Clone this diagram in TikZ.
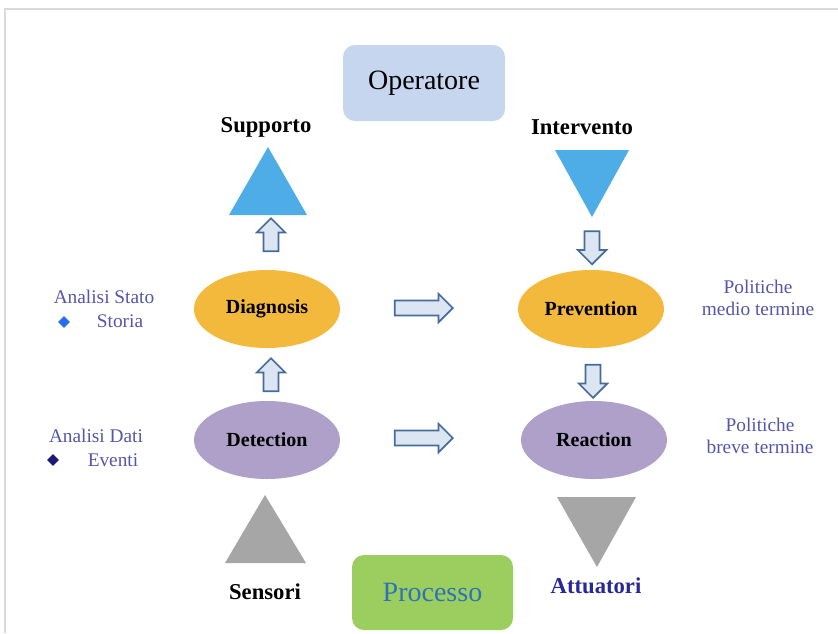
\documentclass[tikz,border=0pt]{standalone}
\usepackage{fontspec}
\setmainfont{Liberation Serif}
\usetikzlibrary{shapes.geometric,shapes.arrows}
\definecolor{opbox}{RGB}{198,214,238}
\definecolor{tribl}{RGB}{78,173,230}
\definecolor{gold}{RGB}{243,185,60}
\definecolor{lilac}{RGB}{174,160,200}
\definecolor{trigr}{RGB}{166,166,166}
\definecolor{procg}{RGB}{155,206,95}
\definecolor{proct}{RGB}{46,116,181}
\definecolor{attt}{RGB}{40,40,150}
\definecolor{sidet}{RGB}{85,85,170}
\definecolor{arrb}{RGB}{70,108,155}
\definecolor{arrf}{RGB}{220,230,242}
\definecolor{frame}{RGB}{217,217,217}
\definecolor{dia1}{RGB}{40,110,235}
\definecolor{dia2}{RGB}{30,25,120}
\tikzset{
  ell/.style={ellipse, minimum width=146*0.75pt, minimum height=78*0.75pt, inner sep=0pt, font=\fontsize{15}{17}\selectfont\bfseries},
  blockarr/.style={single arrow, draw=arrb, fill=arrf, line width=1.3pt, inner sep=5pt, single arrow head extend=5pt, single arrow head indent=0pt},
  lbl/.style={font=\fontsize{17}{19}\selectfont\bfseries},
  side/.style={text=sidet, font=\fontsize{14.5}{16}\selectfont, align=center, inner sep=0pt}
}
\begin{document}
\begin{tikzpicture}[x=0.75pt,y=-0.75pt]
\useasboundingbox (0,0) rectangle (838,633);
% frame
\draw[frame, line width=1.5pt] (838,8.5) -- (4.5,8.5) -- (4.5,633);
% top box
\node[fill=opbox, rounded corners=9pt, minimum width=162*0.75pt, minimum height=76*0.75pt, font=\fontsize{21}{23}\selectfont] (oper) at (424,83) {Operatore};
% bottom box
\node[fill=procg, rounded corners=9pt, minimum width=161*0.75pt, minimum height=75*0.75pt, text=proct, font=\fontsize{21}{23}\selectfont] (proc) at (432.5,592.5) {Processo};
% labels
\node[lbl] (supp) at (266,127) {Supporto};
\node[lbl] (interv) at (582,127) {Intervento};
\node[lbl] (sens) at (265,592) {Sensori};
\node[lbl, text=attt] (attu) at (596,586) {Attuatori};
% triangles
\fill[tribl] (268,147) -- (307,215) -- (229,215) -- cycle;
\fill[tribl] (555,150) -- (629,150) -- (592,217) -- cycle;
\fill[trigr] (265,495) -- (306,563) -- (225,563) -- cycle;
\fill[trigr] (557,497) -- (636,497) -- (597,567) -- cycle;
% ellipses
\node[ell, fill=gold] (diag) at (267,309) {Diagnosis};
\node[ell, fill=lilac] (detc) at (267,440) {Detection};
\node[ell, fill=gold] (prev) at (591,309) {Prevention};
\node[ell, fill=lilac] (reac) at (594,440) {Reaction};
% block arrows
\node[blockarr, minimum height=58*0.75pt] (h1) at (420,308) {};
\node[blockarr, minimum height=58*0.75pt] (h2) at (420,438) {};
\node[blockarr, minimum height=33*0.75pt, shape border rotate=90] (u1) at (271,238.5) {};
\node[blockarr, minimum height=33*0.75pt, shape border rotate=90] (u2) at (271,378.5) {};
\node[blockarr, minimum height=33*0.75pt, shape border rotate=270] (d1) at (592,244) {};
\node[blockarr, minimum height=33*0.75pt, shape border rotate=270] (d2) at (593,377.5) {};
% side labels
\node[side] (as) at (104,297) {Analisi Stato};
\node[side] (st) at (120,321) {Storia};
\node[diamond, fill=dia1, inner sep=0pt, minimum size=9pt] (sd1) at (64,322) {};
\node[side] (ad) at (96,436) {Analisi Dati};
\node[side] (ev) at (113,460) {Eventi};
\node[diamond, fill=dia2, inner sep=0pt, minimum size=9pt] (sd2) at (53,460) {};
\node[side] (p1) at (758,298) {Politiche\\[1pt]medio termine};
\node[side] (p2) at (760,436) {Politiche\\[1pt]breve termine};
\end{tikzpicture}
\end{document}
